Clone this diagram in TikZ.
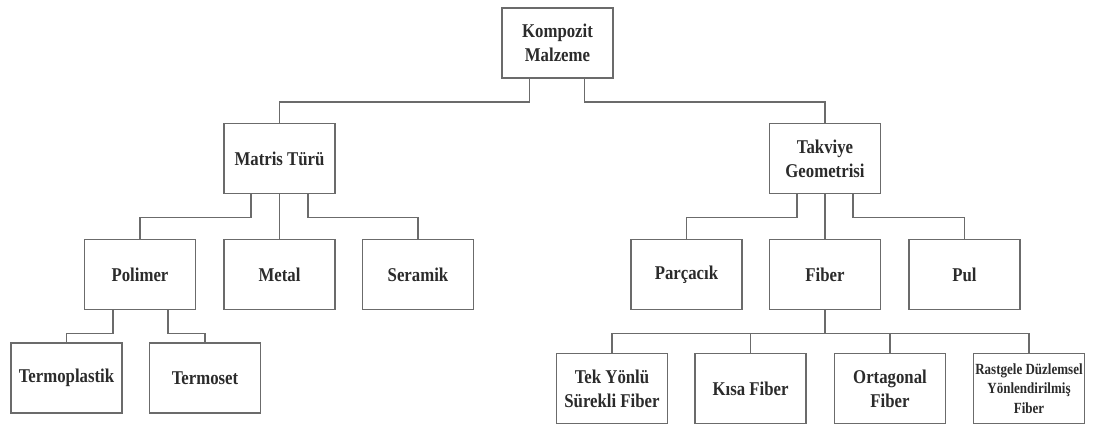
\documentclass[tikz,border=0pt]{standalone}
\usepackage{fontspec}
\setmainfont{Liberation Serif}
% condensed bold serif for the box labels
\newfontfamily\labelfont{Liberation Serif}[FakeStretch=0.86]
\newfontfamily\smalllabelfont{Liberation Serif}[FakeStretch=0.84]
\definecolor{framegray}{HTML}{6B6B6B}
\definecolor{inkgray}{HTML}{2B2B2B}
\begin{document}
\begin{tikzpicture}[x=1pt,y=-1pt,
  box/.style={draw=framegray, line width=1.6pt, minimum width=111pt,
    minimum height=70pt, inner sep=1pt, align=center, text=inkgray,
    font=\labelfont\bfseries\fontsize{19.5}{24}\selectfont},
  smalltext/.style={font=\smalllabelfont\bfseries\fontsize{15.5}{19.5}\selectfont},
  link/.style={draw=framegray, line width=1.5pt}]
\useasboundingbox (0,0) rectangle (1093,427);

% level 0
\node[box] (komp) at (557.5,43) {Kompozit\\Malzeme};

% level 1
\node[box] (matris) at (279.5,158.5) {Matris Türü};
\node[box] (takviye) at (825,158.5) {Takviye\\Geometrisi};

% level 2
\node[box] (polimer) at (140,274.5) {Polimer};
\node[box] (metal) at (279.5,274.5) {Metal};
\node[box] (seramik) at (418,274.5) {Seramik};
\node[box] (parcacik) at (686.5,274.5) {Parçacık};
\node[box] (fiber) at (825,274.5) {Fiber};
\node[box] (pul) at (964.5,274.5) {Pul};

% level 3
\node[box] (termop) at (66.5,378) {Termoplastik};
\node[box] (termos) at (205,378) {Termoset};
\node[box] (tek) at (612,388.5) {Tek Yönlü\\Sürekli Fiber};
\node[box] (kisa) at (750.5,388.5) {Kısa Fiber};
\node[box] (orta) at (890,388.5) {Ortagonal\\Fiber};
\node[box, smalltext] (rast) at (1029,388.5) {Rastgele Düzlemsel\\Yönlendirilmiş\\Fiber};

% connectors
\draw[link] ([xshift=-28pt]komp.south) -- ++(0,23) -| (matris.north);
\draw[link] ([xshift=27pt]komp.south) -- ++(0,23) -| (takviye.north);

\draw[link] ([xshift=-28.5pt]matris.south) -- ++(0,23) -| (polimer.north);
\draw[link] (matris.south) -- (metal.north);
\draw[link] ([xshift=28.5pt]matris.south) -- ++(0,23) -| (seramik.north);

\draw[link] ([xshift=-28pt]takviye.south) -- ++(0,23) -| (parcacik.north);
\draw[link] (takviye.south) -- (fiber.north);
\draw[link] ([xshift=28pt]takviye.south) -- ++(0,23) -| (pul.north);

\draw[link] ([xshift=-27pt]polimer.south) -- ++(0,23) -| (termop.north);
\draw[link] ([xshift=28pt]polimer.south) -- ++(0,23) -| (termos.north);

\draw[link] (fiber.south) -- ++(0,23) coordinate (fbus);
\draw[link] (tek.north) |- (fbus) -| (rast.north);
\draw[link] (kisa.north) -- (kisa.north |- fbus);
\draw[link] (orta.north) -- (orta.north |- fbus);
\end{tikzpicture}
\end{document}
